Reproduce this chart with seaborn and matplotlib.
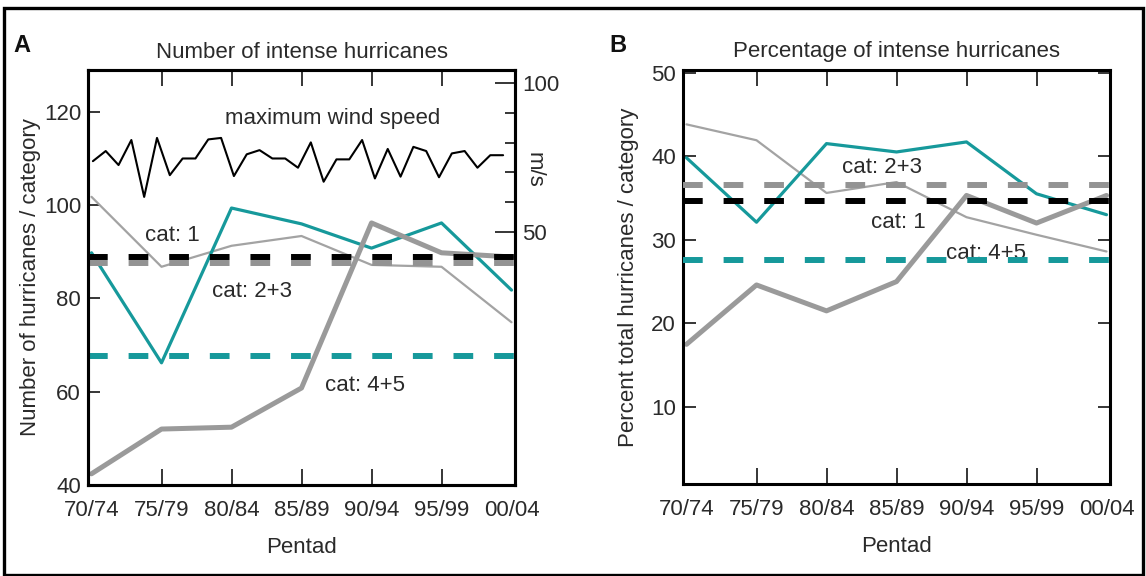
import numpy as np
import matplotlib
matplotlib.use("Agg")
import matplotlib.pyplot as plt
from matplotlib.patches import Rectangle
import seaborn as sns

# ---------------- data ----------------
pentads = ["70/74", "75/79", "80/84", "85/89", "90/94", "95/99", "00/04"]

# Panel A: number of hurricanes per category
num_cat1 = [101.8, 86.8, 91.3, 93.4, 87.2, 86.8, 74.9]      # thin grey
num_cat23 = [89.8, 66.2, 99.4, 96.0, 90.8, 96.2, 81.8]      # teal
num_cat45 = [42.4, 52.0, 52.4, 60.8, 96.2, 89.8, 88.9]      # thick grey
num_mean_cat1 = 89.0
num_mean_cat23 = 87.7
num_mean_cat45 = 67.7

# maximum wind speed (m/s), right axis of panel A
wind_speed = [73.8, 77.2, 72.5, 80.9, 61.8, 81.6, 69.1, 74.7, 74.7, 81.1, 81.6,
              68.8, 76.1, 77.5, 74.7, 74.7, 71.6, 80.1, 66.9, 74.4, 74.4, 80.9,
              68.0, 77.9, 68.6, 78.6, 77.2, 68.4, 76.4, 77.2, 71.6, 75.8, 75.8]

# Panel B: percentage of hurricanes per category
pct_cat1 = [43.8, 41.9, 35.6, 36.9, 32.7, 30.6, 28.6]
pct_cat23 = [39.8, 32.1, 41.5, 40.5, 41.7, 35.5, 33.0]
pct_cat45 = [17.5, 24.6, 21.5, 25.0, 35.3, 32.0, 35.3]
pct_mean_cat1 = 34.6
pct_mean_cat23 = 36.6
pct_mean_cat45 = 27.6

# ---------------- style ----------------
sns.set_theme(style="white")
plt.rcParams["font.family"] = ["Liberation Sans", "DejaVu Sans"]

TEAL = "#16999b"
GREY_THICK = "#9a9a9a"
GREY_THIN = "#a3a3a3"
TXT = "#2a2a2a"
FS = 16
DASH = (0, (3.3, 3.5))

W, H = 1146, 576
fig = plt.figure(figsize=(W / 100, H / 100), dpi=100)
fig.patch.set_facecolor("white")

axA = fig.add_axes([88 / W, 1 - 485 / H, 427 / W, 415 / H])
axB = fig.add_axes([683 / W, 1 - 484 / H, 427 / W, 414 / H])

x = np.arange(len(pentads))


def frame(ax):
    for s in ax.spines.values():
        s.set_visible(True)
        s.set_color("black")
        s.set_linewidth(2.2)
    ax.set_facecolor("white")


def xaxis_setup(ax):
    ax.set_xlim(-0.05, 6.05)
    ax.set_xticks(x)
    ax.set_xticklabels(pentads)
    ax.tick_params(axis="x", direction="in", length=11.5, width=1.1,
                   top=True, bottom=True, pad=11, labelsize=FS,
                   labelcolor=TXT, color="black")
    ticks = ax.xaxis.get_major_ticks()
    for t in (ticks[0], ticks[-1]):
        t.tick1line.set_visible(False)
        t.tick2line.set_visible(False)
    ax.set_xlabel("Pentad", fontsize=FS, color=TXT, labelpad=11)


# ---------------- Panel A ----------------
frame(axA)
sns.lineplot(x=x, y=num_cat1, ax=axA, color=GREY_THIN, lw=1.6, zorder=2)
sns.lineplot(x=x, y=num_cat23, ax=axA, color=TEAL, lw=2.3, zorder=2)
sns.lineplot(x=x, y=num_cat45, ax=axA, color=GREY_THICK, lw=3.6, zorder=2)
axA.axhline(num_mean_cat23, color="#939393", lw=4.3, ls=DASH, zorder=3)
axA.axhline(num_mean_cat1, color="black", lw=4.3, ls=DASH, zorder=3)
axA.axhline(num_mean_cat45, color=TEAL, lw=4.3, ls=DASH, zorder=3)

axA.set_ylim(40, 129)
axA.set_yticks([40, 60, 80, 100, 120])
axA.tick_params(axis="y", direction="in", length=8.5, width=1.1, left=True,
                right=False, pad=5, labelsize=FS, labelcolor=TXT, color="black")
xaxis_setup(axA)
axA.set_ylabel("Number of hurricanes / category", fontsize=FS, color=TXT, labelpad=2)
axA.set_title("Number of intense hurricanes", fontsize=FS, color=TXT, pad=9)

axA.text(3.45, 118.5, "maximum wind speed", fontsize=FS, color=TXT, ha="center", va="center")
axA.text(1.15, 93.6, "cat: 1", fontsize=FS, color=TXT, ha="center", va="center")
axA.text(2.29, 81.4, "cat: 2+3", fontsize=FS, color=TXT, ha="center", va="center")
axA.text(3.91, 61.4, "cat: 4+5", fontsize=FS, color=TXT, ha="center", va="center")

# wind speed on twin axis
twin = axA.twinx()
wind_x = np.linspace(0.02, 5.88, len(wind_speed))
sns.lineplot(x=wind_x, y=wind_speed, ax=twin, color="black", lw=1.5)
twin.set_ylim(-34.9, 104.4)
twin.set_yticks([50, 100])
twin.set_yticks([60, 70, 80, 90], minor=True)
twin.tick_params(axis="y", which="major", direction="in", length=14.4, width=1.1,
                 pad=5, labelsize=FS, labelcolor=TXT, right=True, color="black")
twin.tick_params(axis="y", which="minor", direction="in", length=7.2, width=1.1,
                 right=True, color="black")
for s in twin.spines.values():
    s.set_color("black")
    s.set_linewidth(2.2)
twin.set_ylabel("m/s", fontsize=FS, color=TXT, rotation=-90, va="center", ha="center")
twin.yaxis.set_label_coords(1.045, 0.76)

# ---------------- Panel B ----------------
frame(axB)
sns.lineplot(x=x, y=pct_cat1, ax=axB, color=GREY_THIN, lw=1.6, zorder=2)
sns.lineplot(x=x, y=pct_cat23, ax=axB, color=TEAL, lw=2.3, zorder=2)
sns.lineplot(x=x, y=pct_cat45, ax=axB, color=GREY_THICK, lw=3.6, zorder=2)
axB.axhline(pct_mean_cat23, color="#939393", lw=4.3, ls=DASH, zorder=3)
axB.axhline(pct_mean_cat1, color="black", lw=4.3, ls=DASH, zorder=3)
axB.axhline(pct_mean_cat45, color=TEAL, lw=4.3, ls=DASH, zorder=3)

axB.set_ylim(0.8, 50.3)
axB.set_yticks([10, 20, 30, 40, 50])
axB.tick_params(axis="y", direction="in", length=9, width=1.1, left=True,
                right=True, pad=5, labelsize=FS, labelcolor=TXT, color="black")
xaxis_setup(axB)
axB.set_ylabel("Percent total hurricanes / category", fontsize=FS, color=TXT, labelpad=9)
axB.set_title("Percentage of intense hurricanes", fontsize=FS, color=TXT, pad=9)

axB.text(2.79, 38.6, "cat: 2+3", fontsize=FS, color=TXT, ha="center", va="center", zorder=1)
axB.text(3.02, 32.1, "cat: 1", fontsize=FS, color=TXT, ha="center", va="center", zorder=1)
axB.text(4.28, 28.4, "cat: 4+5", fontsize=FS, color=TXT, ha="center", va="center", zorder=1)

# panel letters
fig.text(22 / W, 1 - 45 / H, "A", fontsize=17, fontweight="bold", color="#111", ha="center", va="center")
fig.text(618 / W, 1 - 45 / H, "B", fontsize=17, fontweight="bold", color="#111", ha="center", va="center")

# outer frame
fig.patches.append(Rectangle((4 / W, 1 - 575 / H), (1143 - 4) / W, (575 - 8) / H,
                             transform=fig.transFigure, fill=False,
                             edgecolor="black", lw=2.4, zorder=0))

fig.savefig("out.png", dpi=100, facecolor="white")
